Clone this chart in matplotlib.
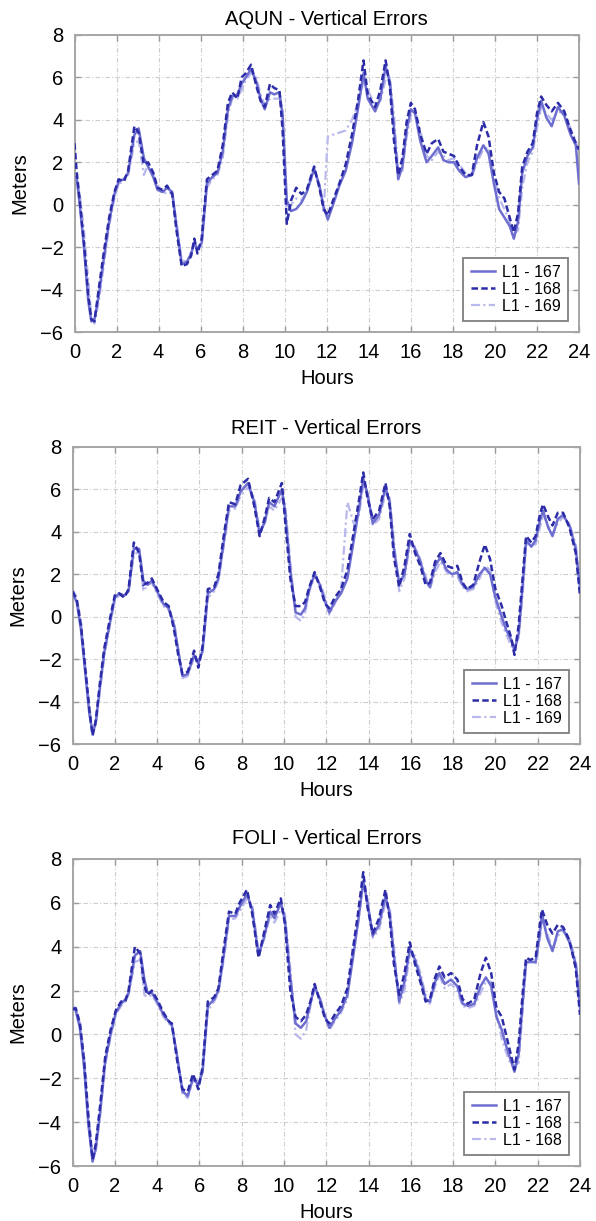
import matplotlib
matplotlib.use("Agg")
import matplotlib.pyplot as plt
from matplotlib.ticker import MultipleLocator

plt.rcParams['font.family'] = ['Liberation Sans', 'DejaVu Sans']

# ---------------- AQUN ----------------
hours_aqun = [
    0, 0.1, 0.25, 0.45, 0.65, 0.8, 0.95, 1.15, 1.4, 1.65,
    1.9, 2.1, 2.35, 2.55, 2.85, 3.05, 3.3, 3.5, 3.75, 3.95,
    4.2, 4.4, 4.65, 4.85, 5.1, 5.35, 5.55, 5.7, 5.85, 6.05,
    6.3, 6.55, 6.8, 7.05, 7.3, 7.5, 7.75, 7.95, 8.15, 8.4,
    8.65, 8.85, 9.05, 9.3, 9.5, 9.75, 9.9, 10.1, 10.3, 10.55,
    10.8, 11.05, 11.4, 11.65, 11.85, 12.05, 12.3, 12.6, 12.9, 13.2,
    13.5, 13.75, 13.95, 14.3, 14.55, 14.8, 15.0, 15.2, 15.4, 15.6,
    15.8, 16.0, 16.2, 16.45, 16.75, 17.0, 17.3, 17.55, 17.8, 18.05,
    18.3, 18.6, 18.9, 19.15, 19.45, 19.7, 19.95, 20.2, 20.45, 20.7,
    20.9, 21.1, 21.3, 21.55, 21.8, 22.0, 22.2, 22.45, 22.7, 23.0,
    23.3, 23.6, 23.85, 24.0]
aqun_167 = [
    1.3, 1.3, 0.0, -2.0, -4.5, -5.5, -5.4, -4.3, -2.5, -0.8,
    0.5, 1.1, 1.2, 1.5, 3.3, 3.6, 2.2, 1.8, 1.3, 0.7,
    0.6, 0.8, 0.6, -1.0, -2.8, -2.7, -2.3, -1.8, -2.1, -1.8,
    1.0, 1.3, 1.5, 2.5, 4.5, 5.1, 5.2, 5.7, 6.0, 6.4,
    5.8, 5.0, 4.5, 5.3, 5.2, 5.3, 4.2, 0.2, -0.3, -0.2,
    0.1, 0.6, 1.7, 0.9, -0.1, -0.7, 0.0, 0.9, 1.6, 2.9,
    4.6, 6.2, 5.0, 4.4, 5.0, 6.5, 5.8, 3.6, 1.2, 1.8,
    3.5, 4.5, 4.3, 3.0, 2.0, 2.3, 2.7, 2.1, 2.0, 2.0,
    1.6, 1.3, 1.4, 2.2, 2.8, 2.4, 1.0, -0.2, -0.6, -1.0,
    -1.6, -0.8, 1.5, 2.3, 2.7, 4.0, 4.9, 4.1, 3.7, 4.6,
    4.2, 3.3, 2.8, 1.0]
aqun_168 = [
    2.9, 1.6, 0.2, -1.8, -4.2, -5.4, -5.5, -4.0, -2.2, -0.6,
    0.6, 1.2, 1.1, 1.6, 3.7, 3.4, 1.9, 2.0, 1.5, 0.8,
    0.7, 0.9, 0.5, -1.2, -2.9, -2.8, -2.4, -1.6, -2.3, -1.6,
    1.2, 1.4, 1.6, 2.8, 4.8, 5.3, 5.0, 6.0, 6.2, 6.6,
    5.6, 4.9, 4.6, 5.7, 5.5, 5.4, 3.5, -0.9, 0.2, 0.8,
    0.5, 0.7, 1.8, 0.8, -0.2, -0.5, 0.2, 1.0, 1.9, 3.3,
    5.0, 6.8, 5.2, 4.6, 5.4, 6.8, 5.6, 3.0, 1.4, 2.2,
    3.9, 4.8, 4.5, 3.3, 2.4, 2.9, 3.1, 2.5, 2.4, 2.3,
    1.8, 1.4, 1.4, 2.8, 3.9, 3.2, 1.5, 0.6, 0.3, -0.6,
    -1.3, -0.4, 1.8, 2.5, 2.9, 4.3, 5.1, 4.7, 4.4, 4.8,
    4.4, 3.5, 2.9, 2.6]
aqun_169 = [
    1.2, 1.2, 0.5, -1.2, -3.5, -5.2, -5.6, -4.6, -2.8, -1.0,
    0.3, 1.0, 1.1, 1.4, 2.9, 3.0, 1.4, 1.9, 1.4, 0.9,
    0.5, 0.6, 0.5, -0.8, -2.6, -2.7, -2.2, -1.9, -2.0, -2.0,
    0.8, 1.2, 1.4, 2.2, 4.2, 5.0, 5.0, 5.4, 5.9, 6.2,
    6.0, 5.2, 4.7, 5.0, 5.0, 5.0, 4.6, -0.8, 0.0, 0.3,
    0.2, 0.6, 1.6, 1.0, -0.3, 3.2, 3.3, 3.4, 3.5, 4.0,
    4.8, 5.8, 5.4, 4.7, 4.9, 5.9, 6.0, 4.2, 1.6, 1.6,
    3.2, 4.2, 4.4, 3.5, 2.3, 2.1, 2.5, 2.3, 2.1, 2.2,
    1.9, 1.5, 1.3, 2.0, 2.6, 2.7, 1.4, 0.3, -0.2, -0.8,
    -1.4, -1.2, 0.8, 2.0, 2.5, 3.6, 4.6, 4.3, 4.0, 4.4,
    4.3, 3.6, 3.0, 2.4]

# ---------------- REIT ----------------
hours_reit = [
    0, 0.2, 0.4, 0.6, 0.8, 0.95, 1.1, 1.3, 1.5, 1.75,
    2.0, 2.2, 2.45, 2.65, 2.9, 3.15, 3.35, 3.55, 3.75, 4.0,
    4.3, 4.55, 4.8, 5.0, 5.2, 5.45, 5.75, 5.95, 6.15, 6.4,
    6.7, 6.9, 7.15, 7.4, 7.7, 7.95, 8.3, 8.6, 8.85, 9.1,
    9.3, 9.55, 9.9, 10.05, 10.3, 10.55, 10.8, 11.0, 11.2, 11.45,
    11.7, 11.95, 12.15, 12.4, 12.7, 13.0, 13.3, 13.55, 13.75, 13.95,
    14.2, 14.5, 14.8, 15.0, 15.2, 15.45, 15.7, 15.95, 16.2, 16.45,
    16.7, 16.9, 17.15, 17.4, 17.7, 17.95, 18.2, 18.45, 18.65, 18.95,
    19.25, 19.5, 19.75, 20.0, 20.3, 20.5, 20.75, 20.9, 21.1, 21.3,
    21.45, 21.7, 21.9, 22.1, 22.25, 22.5, 22.7, 22.95, 23.2, 23.5,
    23.8, 24.0]
reit_167 = [
    1.1, 0.7, -0.6, -2.6, -4.6, -5.5, -5.0, -3.3, -1.7, -0.4,
    0.9, 1.1, 1.0, 1.2, 3.2, 3.2, 1.7, 1.5, 1.7, 1.2,
    0.6, 0.4, -0.4, -1.6, -2.8, -2.7, -1.8, -2.2, -1.6, 1.1,
    1.3, 1.8, 3.5, 5.2, 5.2, 5.9, 6.3, 5.4, 3.9, 4.5,
    5.4, 5.2, 6.0, 5.0, 2.2, 0.2, 0.1, 0.4, 1.3, 2.0,
    1.5, 0.7, 0.2, 0.7, 1.1, 1.8, 3.6, 5.1, 6.5, 5.8,
    4.4, 4.8, 6.1, 5.4, 3.2, 1.6, 2.0, 3.6, 3.2, 2.6,
    1.7, 1.4, 2.4, 2.8, 2.2, 2.0, 2.1, 1.5, 1.3, 1.4,
    2.0, 2.3, 2.0, 0.9, 0.0, -0.6, -1.1, -1.6, -0.8, 1.6,
    3.6, 3.3, 3.6, 4.5, 5.0, 4.2, 3.8, 4.6, 4.8, 4.3,
    3.2, 1.3]
reit_168 = [
    1.2, 0.8, -0.4, -2.4, -4.4, -5.6, -4.9, -3.1, -1.5, -0.2,
    1.0, 1.1, 0.9, 1.3, 3.5, 3.0, 1.5, 1.6, 1.8, 1.3,
    0.7, 0.5, -0.6, -1.8, -2.7, -2.6, -1.6, -2.4, -1.4, 1.3,
    1.4, 2.0, 3.8, 5.4, 5.3, 6.2, 6.5, 5.2, 3.8, 4.7,
    5.6, 5.4, 6.3, 4.6, 1.8, 0.5, 0.5, 0.7, 1.4, 2.1,
    1.4, 0.6, 0.4, 0.9, 1.3, 2.2, 4.0, 5.5, 6.8, 5.6,
    4.6, 5.0, 6.3, 5.2, 2.8, 1.4, 2.4, 3.9, 3.0, 2.4,
    1.5, 1.6, 2.6, 3.0, 2.4, 2.3, 2.4, 1.6, 1.3, 1.5,
    2.6, 3.4, 2.7, 1.3, 0.5, -0.2, -1.0, -1.8, -0.4, 2.0,
    3.8, 3.5, 3.8, 4.8, 5.3, 4.7, 4.3, 4.9, 4.9, 4.2,
    3.0, 1.0]
reit_169 = [
    1.3, 0.9, -0.2, -2.2, -4.2, -5.5, -5.1, -3.5, -1.9, -0.5,
    0.8, 1.0, 1.0, 1.2, 2.9, 3.1, 1.2, 1.5, 1.6, 1.1,
    0.5, 0.3, -0.2, -1.5, -2.9, -2.8, -1.9, -2.0, -1.7, 0.9,
    1.2, 1.7, 3.3, 5.0, 5.1, 5.7, 6.1, 5.6, 4.1, 4.4,
    5.2, 5.0, 5.6, 5.4, 2.6, 0.0, -0.2, 0.2, 1.2, 1.9,
    1.6, 0.9, 0.1, 0.6, 1.3, 5.4, 4.4, 4.8, 6.2, 5.9,
    4.3, 4.6, 5.8, 5.6, 3.6, 1.2, 1.8, 3.4, 3.3, 2.7,
    1.9, 1.3, 2.1, 2.6, 2.1, 1.9, 1.9, 1.4, 1.2, 1.3,
    1.8, 2.4, 2.2, 0.7, -0.3, -0.8, -1.4, -1.4, -1.0, 1.2,
    3.4, 3.4, 3.4, 4.2, 4.8, 4.3, 3.9, 4.4, 4.7, 4.4,
    3.4, 1.5]

# ---------------- FOLI ----------------
hours_foli = [
    0, 0.15, 0.35, 0.55, 0.75, 0.95, 1.1, 1.3, 1.55, 1.8,
    2.05, 2.3, 2.5, 2.65, 2.95, 3.2, 3.4, 3.55, 3.75, 4.0,
    4.3, 4.55, 4.7, 4.95, 5.2, 5.45, 5.7, 5.95, 6.15, 6.4,
    6.7, 6.9, 7.15, 7.4, 7.7, 7.9, 8.25, 8.5, 8.8, 9.05,
    9.35, 9.55, 9.85, 10.05, 10.3, 10.55, 10.8, 11.05, 11.25, 11.45,
    11.7, 11.95, 12.15, 12.4, 12.7, 13.0, 13.25, 13.5, 13.75, 13.95,
    14.2, 14.5, 14.8, 15.0, 15.2, 15.45, 15.7, 15.95, 16.2, 16.45,
    16.7, 16.9, 17.15, 17.35, 17.6, 17.9, 18.2, 18.45, 18.7, 19.0,
    19.3, 19.55, 19.8, 20.05, 20.3, 20.5, 20.7, 20.9, 21.1, 21.3,
    21.45, 21.65, 21.9, 22.1, 22.2, 22.45, 22.7, 22.95, 23.2, 23.5,
    23.8, 24.0]
foli_167 = [
    1.2, 1.1, 0.3, -1.5, -4.1, -5.8, -5.2, -3.6, -1.2, 0.0,
    1.0, 1.4, 1.6, 1.9, 3.6, 3.8, 2.5, 1.9, 1.9, 1.5,
    0.9, 0.6, 0.4, -1.0, -2.6, -2.8, -2.0, -2.3, -1.7, 1.3,
    1.6, 2.0, 3.6, 5.4, 5.4, 5.8, 6.4, 5.7, 3.6, 4.4,
    5.6, 5.3, 6.0, 5.2, 2.6, 0.5, 0.3, 0.6, 1.4, 2.2,
    1.6, 0.8, 0.3, 0.7, 1.1, 1.8, 3.4, 5.1, 7.0, 6.0,
    4.5, 5.0, 6.3, 5.5, 3.6, 1.5, 2.4, 3.9, 3.4, 2.6,
    1.6, 1.5, 2.4, 2.8, 2.3, 2.5, 2.2, 1.4, 1.3, 1.4,
    2.2, 2.6, 2.2, 0.8, 0.2, -0.5, -1.1, -1.7, -0.9, 1.6,
    3.3, 3.3, 3.3, 4.6, 5.5, 4.4, 3.8, 4.7, 4.8, 4.2,
    3.2, 1.2]
foli_168 = [
    1.15, 1.2, 0.5, -1.2, -3.8, -5.7, -5.0, -3.3, -1.0, 0.2,
    1.1, 1.5, 1.5, 2.0, 4.0, 3.7, 2.2, 1.8, 2.0, 1.6,
    1.0, 0.6, 0.5, -1.2, -2.5, -2.6, -1.8, -2.5, -1.5, 1.5,
    1.7, 2.1, 3.9, 5.6, 5.5, 6.0, 6.6, 5.5, 3.5, 4.6,
    5.9, 5.5, 6.2, 5.0, 2.0, 0.8, 0.6, 0.9, 1.5, 2.3,
    1.5, 0.7, 0.5, 0.9, 1.3, 2.1, 3.8, 5.5, 7.4, 5.8,
    4.6, 5.3, 6.6, 5.3, 3.2, 1.8, 2.8, 4.2, 3.2, 2.4,
    1.5, 1.6, 2.6, 3.1, 2.6, 2.8, 2.5, 1.6, 1.4, 1.6,
    2.8, 3.5, 2.8, 1.2, 0.8, 0.0, -0.8, -1.6, -0.4, 2.0,
    3.5, 3.4, 3.5, 5.0, 5.7, 5.0, 4.6, 5.0, 4.9, 4.3,
    3.0, 0.9]
foli_168b = [
    1.3, 1.2, 0.6, -1.0, -3.5, -5.6, -5.3, -3.8, -1.4, -0.1,
    0.9, 1.3, 1.5, 1.8, 3.3, 3.4, 1.8, 1.7, 1.8, 1.4,
    0.8, 0.5, 0.4, -0.9, -2.7, -2.9, -2.1, -2.1, -1.8, 1.1,
    1.5, 1.9, 3.4, 5.2, 5.3, 5.6, 6.2, 5.9, 3.8, 4.3,
    5.4, 5.1, 5.7, 5.5, 3.0, 0.0, -0.2, 0.2, 1.3, 2.1,
    1.7, 0.9, 0.2, 0.6, 1.0, 1.6, 3.9, 5.0, 6.8, 6.2,
    4.4, 4.8, 6.0, 5.8, 4.0, 1.4, 2.0, 3.6, 3.6, 2.8,
    1.8, 1.4, 2.2, 2.7, 2.1, 2.3, 2.0, 1.3, 1.2, 1.3,
    1.9, 2.4, 2.4, 0.9, -0.2, -0.8, -1.3, -1.4, -1.3, 1.2,
    3.2, 3.4, 3.2, 4.3, 5.2, 4.6, 3.9, 4.5, 4.7, 4.4,
    3.4, 1.5]

panels = [
    ("AQUN - Vertical Errors", hours_aqun,
     [aqun_167, aqun_168, aqun_169], ["L1 - 167", "L1 - 168", "L1 - 169"]),
    ("REIT - Vertical Errors", hours_reit,
     [reit_167, reit_168, reit_169], ["L1 - 167", "L1 - 168", "L1 - 169"]),
    ("FOLI - Vertical Errors", hours_foli,
     [foli_167, foli_168, foli_168b], ["L1 - 167", "L1 - 168", "L1 - 168"]),
]

# line styles: solid medium, dashed dark, dash-dot light
styles = [
    dict(color='#6e6ed0', linestyle='-', lw=1.8, zorder=3),
    dict(color='#2c2ca8', linestyle=(0, (2.6, 1.3)), lw=1.8, zorder=4),
    dict(color='#b8b8ec', linestyle=(0, (4, 1.5, 1, 1.5)), lw=1.6, zorder=2),
]

W, H = 596, 1221
# axes boxes in pixels: left, right, top, bottom
boxes = [(74.5, 579, 35, 332), (72.5, 580, 447, 744), (72.5, 580, 859, 1166)]
title_pads = [7, 9.5, 10.5]

fig = plt.figure(figsize=(W / 100, H / 100), dpi=100)
fig.patch.set_facecolor('white')

for (title, hrs, series, labels), (l, r, t, b), tp in zip(panels, boxes, title_pads):
    ax = fig.add_axes([l / W, 1 - b / H, (r - l) / W, (b - t) / H])
    draw_order = [2, 0, 1]
    handles = {}
    for i in draw_order:
        ln, = ax.plot(hrs, series[i], label=labels[i], **styles[i])
        handles[i] = ln
    ax.set_xlim(0, 24)
    ax.set_ylim(-6, 8)
    ax.xaxis.set_major_locator(MultipleLocator(2))
    ax.yaxis.set_major_locator(MultipleLocator(2))
    ax.grid(True, color='#cdcdcd', linestyle=(0, (4, 2, 1, 2)), lw=0.8)
    ax.set_axisbelow(True)
    for s in ax.spines.values():
        s.set_color('#a6a6a6')
        s.set_linewidth(1.4)
    ax.tick_params(direction='in', top=True, right=True, length=4, width=1,
                   color='#9a9a9a', labelsize=14.5, pad=8, labelcolor='black')
    ax.set_title(title, fontsize=14.5, pad=tp)
    ax.set_xlabel("Hours", fontsize=14.5, labelpad=5)
    ax.set_ylabel("Meters", fontsize=14.5, labelpad=8)
    leg = ax.legend([handles[0], handles[1], handles[2]], labels,
                    loc='lower right', fontsize=11.5, frameon=True, fancybox=False,
                    edgecolor='#7f7f7f', framealpha=1, borderpad=0.45,
                    labelspacing=0.12, handlelength=1.5, handletextpad=0.45,
                    borderaxespad=0.7)
    leg.get_frame().set_linewidth(1.3)

fig.savefig("out.png", dpi=100, facecolor='white')
